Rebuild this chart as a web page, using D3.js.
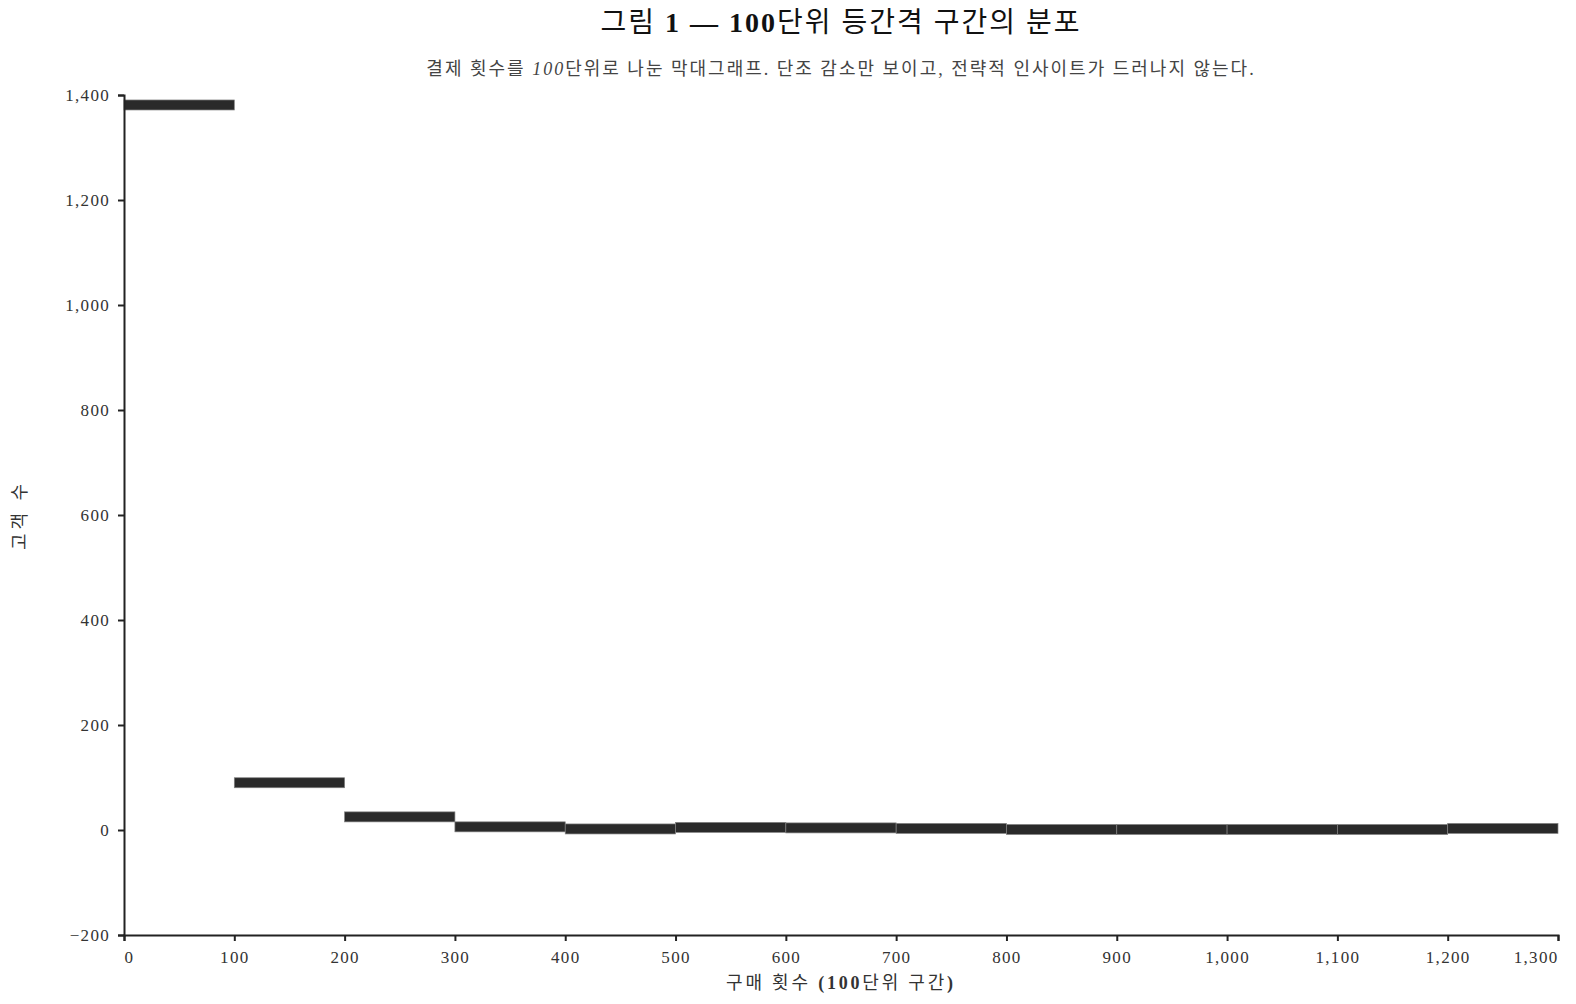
<!DOCTYPE html>
<html>
<head>
<meta charset="utf-8">
<script src="https://cdn.jsdelivr.net/npm/d3@7"></script>
<style>
  html, body { margin: 0; padding: 0; background: #fff; }
  svg { display: block; font-family: "Liberation Serif", "Noto Sans CJK KR", serif; }
</style>
</head>
<body>
<div id="chart"></div>
<script>
// bins of purchase counts (100 wide) and customers in each
var binStarts = [0, 100, 200, 300, 400, 500, 600, 700, 800, 900, 1000, 1100, 1200];
var binEnds   = [100, 200, 300, 400, 500, 600, 700, 800, 900, 1000, 1100, 1200, 1300];
var customers = [1381, 90, 25, 6, 2, 5, 4, 3, 1, 1, 1, 1, 3];

var xTicks = [0, 100, 200, 300, 400, 500, 600, 700, 800, 900, 1000, 1100, 1200, 1300];
var yTicks = [-200, 0, 200, 400, 600, 800, 1000, 1200, 1400];

var W = 1576, H = 1004;
var margin = {top: 95, right: 18, bottom: 69, left: 124};
var innerW = W - margin.left - margin.right,
    innerH = H - margin.top - margin.bottom;

var svg = d3.select("#chart").append("svg")
    .attr("width", W)
    .attr("height", H);

var g = svg.append("g")
    .attr("transform", "translate(" + margin.left + "," + margin.top + ")");

var x = d3.scaleLinear().domain([0, 1300]).range([0, innerW]);
var y = d3.scaleLinear().domain([-200, 1400]).range([innerH, 0]);
var fmt = d3.format(",");

// bars: thick slabs centered on each bin's count
var barH = 10;
g.selectAll("rect.bar")
    .data(customers)
    .enter().append("rect")
    .attr("class", "bar")
    .attr("x", function(d, i) { return x(binStarts[i]); })
    .attr("width", function(d, i) { return x(binEnds[i]) - x(binStarts[i]); })
    .attr("y", function(d) { return y(d) - barH / 2; })
    .attr("height", barH)
    .attr("fill", "#2a2a2a")
    .attr("stroke", "#808080")
    .attr("stroke-width", 0.7);

// y axis
var yAxis = g.append("g")
    .call(d3.axisLeft(y).tickValues(yTicks).tickFormat(fmt).tickSize(6).tickPadding(8));
// x axis
var xAxis = g.append("g")
    .attr("transform", "translate(0," + innerH + ")")
    .call(d3.axisBottom(x).tickValues(xTicks).tickFormat(fmt).tickSize(6).tickPadding(10));

[yAxis, xAxis].forEach(function(ax) {
    ax.select(".domain").attr("stroke", "#222").attr("stroke-width", 2);
    ax.selectAll(".tick line").attr("stroke", "#222").attr("stroke-width", 2);
    ax.selectAll(".tick text")
        .attr("fill", "#333")
        .style("font-size", "17px")
        .style("letter-spacing", "1.3px")
        .style("font-family", "'Liberation Serif', serif");
});
// flush first/last x labels inside the axis
xAxis.selectAll(".tick text")
    .attr("text-anchor", function(d) {
        return d === xTicks[0] ? "start" : (d === xTicks[xTicks.length - 1] ? "end" : "middle");
    });

// title
var title = svg.append("text")
    .attr("x", margin.left + innerW / 2)
    .attr("y", 32)
    .attr("text-anchor", "middle")
    .attr("fill", "#111")
    .style("font-size", "28px")
    .style("letter-spacing", "2px");
title.append("tspan").text("그림 ");
title.append("tspan").attr("font-weight", "bold").text("1 — 100");
title.append("tspan").text("단위 등간격 구간의 분포");

var sub = svg.append("text")
    .attr("x", margin.left + innerW / 2)
    .attr("y", 75)
    .attr("text-anchor", "middle")
    .attr("fill", "#444")
    .style("font-size", "18px")
    .style("letter-spacing", "2px");
sub.append("tspan").text("결제 횟수를 ");
sub.append("tspan").attr("font-style", "italic").text("100");
sub.append("tspan").text("단위로 나눈 막대그래프. 단조 감소만 보이고, 전략적 인사이트가 드러나지 않는다.");

// axis titles
var xt = svg.append("text")
    .attr("x", margin.left + innerW / 2)
    .attr("y", 989)
    .attr("text-anchor", "middle")
    .attr("fill", "#333")
    .style("font-size", "18px")
    .style("letter-spacing", "2.8px");
xt.append("tspan").text("구매 횟수 ");
xt.append("tspan").attr("font-weight", "bold").text("(100");
xt.append("tspan").text("단위 구간");
xt.append("tspan").attr("font-weight", "bold").text(")");

svg.append("text")
    .attr("transform", "translate(26," + (margin.top + innerH / 2) + ") rotate(-90)")
    .attr("text-anchor", "middle")
    .attr("fill", "#333")
    .style("font-size", "18px")
    .style("letter-spacing", "4px")
    .text("고객 수");
</script>
</body>
</html>
